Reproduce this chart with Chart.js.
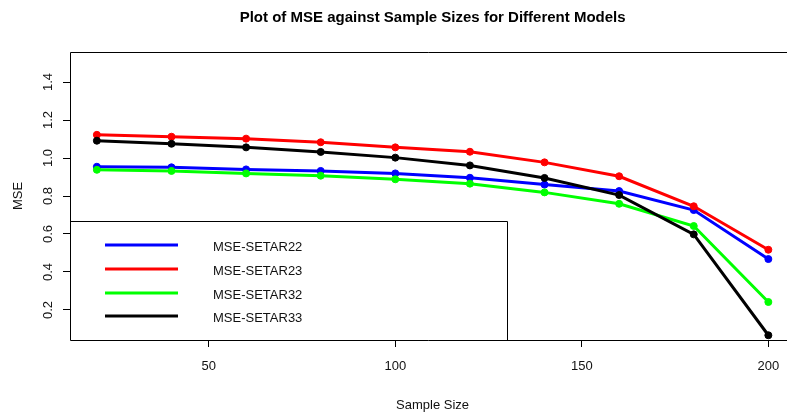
<!DOCTYPE html>
<html>
<head>
<meta charset="utf-8">
<script src="https://cdn.jsdelivr.net/npm/chart.js@4"></script>
<style>
  html, body { margin: 0; padding: 0; background: #fff; }
  #wrap { width: 787px; height: 415px; }
</style>
</head>
<body>
<div id="wrap"><canvas id="mseChart"></canvas></div>
<script>
    "use strict";

    // data
    var sampleSizes = [20, 40, 60, 80, 100, 120, 140, 160, 180, 200];
    var mseSetar22 = [0.954, 0.951, 0.940, 0.932, 0.919, 0.896, 0.860, 0.826, 0.726, 0.468];
    var mseSetar23 = [1.122, 1.112, 1.102, 1.083, 1.056, 1.033, 0.977, 0.904, 0.746, 0.517];
    var mseSetar32 = [0.938, 0.932, 0.919, 0.907, 0.888, 0.865, 0.819, 0.759, 0.642, 0.242];
    var mseSetar33 = [1.091, 1.075, 1.056, 1.032, 1.002, 0.961, 0.895, 0.805, 0.598, 0.067];
    var seriesNames = ['MSE-SETAR22', 'MSE-SETAR23', 'MSE-SETAR32', 'MSE-SETAR33'];
    var seriesColors = ['#0000ff', '#ff0000', '#00ff00', '#000000'];
    var xTicks = [50, 100, 150, 200];
    var yTicks = [0.2, 0.4, 0.6, 0.8, 1.0, 1.2, 1.4];

    var FONT = '"Liberation Sans", Arial, Helvetica, sans-serif';

    function toPoints(values) {
        return values.map(function (v, i) { return { x: sampleSizes[i], y: v }; });
    }

    var allSeries = [mseSetar22, mseSetar23, mseSetar32, mseSetar33];
    var datasets = allSeries.map(function (vals, i) {
        return {
            label: seriesNames[i],
            data: toPoints(vals),
            borderColor: seriesColors[i],
            backgroundColor: seriesColors[i],
            borderWidth: 3,
            pointRadius: 3.5,
            pointBorderWidth: 1,
            pointBackgroundColor: seriesColors[i],
            pointBorderColor: seriesColors[i],
            tension: 0,
            order: allSeries.length - i
        };
    });

    // R-style base graphics decorations: frame, title, rotated y labels, legend box
    var rStylePlugin = {
        id: 'rStyle',
        afterDraw: function (chart) {
            var ctx = chart.ctx;
            var area = chart.chartArea;
            var xs = chart.scales.x;
            var ys = chart.scales.y;
            var midX = xs.getPixelForValue(110);

            ctx.save();
            // frame (right side falls outside the picture)
            ctx.strokeStyle = '#000';
            ctx.lineWidth = 1;
            ctx.beginPath();
            ctx.moveTo(chart.width, Math.round(area.top) + 0.5);
            ctx.lineTo(Math.round(area.left) + 0.5, Math.round(area.top) + 0.5);
            ctx.lineTo(Math.round(area.left) + 0.5, Math.round(area.bottom) + 0.5);
            ctx.lineTo(chart.width, Math.round(area.bottom) + 0.5);
            ctx.stroke();

            // title
            ctx.fillStyle = '#000';
            ctx.font = 'bold 15px ' + FONT;
            ctx.textAlign = 'center';
            ctx.textBaseline = 'middle';
            ctx.fillText('Plot of MSE against Sample Sizes for Different Models', midX, 18);

            // x axis title
            ctx.font = '13px ' + FONT;
            ctx.fillStyle = '#111';
            ctx.fillText('Sample Size', midX, 405);

            // y axis title + rotated tick labels
            ctx.save();
            ctx.translate(18, (area.top + area.bottom) / 2);
            ctx.rotate(-Math.PI / 2);
            ctx.fillText('MSE', 0, 0);
            ctx.restore();

            ys.ticks.forEach(function (t) {
                var py = ys.getPixelForValue(t.value);
                ctx.save();
                ctx.translate(48, py);
                ctx.rotate(-Math.PI / 2);
                ctx.fillText(t.value.toFixed(1), 0, 0);
                ctx.restore();
            });

            // legend box
            var boxTop = 221;
            ctx.strokeStyle = '#000';
            ctx.lineWidth = 1;
            ctx.beginPath();
            ctx.moveTo(Math.round(area.left) + 0.5, boxTop + 0.5);
            ctx.lineTo(507.5, boxTop + 0.5);
            ctx.lineTo(507.5, Math.round(area.bottom) + 0.5);
            ctx.stroke();

            var rows = [245, 269, 293, 316];
            ctx.textAlign = 'left';
            chart.data.datasets.forEach(function (ds, i) {
                ctx.strokeStyle = ds.borderColor;
                ctx.lineWidth = 3;
                ctx.beginPath();
                ctx.moveTo(105, rows[i]);
                ctx.lineTo(178, rows[i]);
                ctx.stroke();
                ctx.fillStyle = '#111';
                ctx.fillText(ds.label, 213, rows[i] + 2);
            });
            ctx.restore();
        }
    };

    var ctx = document.getElementById('mseChart').getContext('2d');
    var chart = new Chart(ctx, {
        type: 'line',
        data: { datasets: datasets },
        options: {
            responsive: true,
            maintainAspectRatio: false,
            animation: false,
            layout: { autoPadding: false, padding: { top: 52, right: 0, bottom: 0, left: 0 } },
            plugins: {
                legend: { display: false },
                title: { display: false },
                tooltip: { enabled: false }
            },
            scales: {
                x: {
                    type: 'linear',
                    min: 12.8,
                    max: 205,
                    afterFit: function (scale) {
                        scale.height = 75;
                        scale.paddingLeft = 0;
                        scale.paddingRight = 0;
                    },
                    afterBuildTicks: function (scale) {
                        scale.ticks = xTicks.map(function (v) { return { value: v }; });
                    },
                    grid: { drawOnChartArea: false, drawTicks: true, tickLength: 7, color: '#000', lineWidth: 1 },
                    border: { display: false },
                    ticks: {
                        padding: 12,
                        maxRotation: 0,
                        autoSkip: false,
                        color: '#111',
                        font: { family: FONT, size: 13 }
                    }
                },
                y: {
                    type: 'linear',
                    min: 0.042,
                    max: 1.558,
                    afterFit: function (scale) {
                        scale.width = 70;
                        scale.paddingTop = 0;
                        scale.paddingBottom = 0;
                    },
                    afterBuildTicks: function (scale) {
                        scale.ticks = yTicks.map(function (v) { return { value: v }; });
                    },
                    grid: { drawOnChartArea: false, drawTicks: true, tickLength: 7, color: '#000', lineWidth: 1 },
                    border: { display: false },
                    ticks: {
                        color: 'rgba(0,0,0,0)',
                        autoSkip: false,
                        font: { family: FONT, size: 13 }
                    }
                }
            }
        },
        plugins: [rStylePlugin]
    });
</script>
</body>
</html>
